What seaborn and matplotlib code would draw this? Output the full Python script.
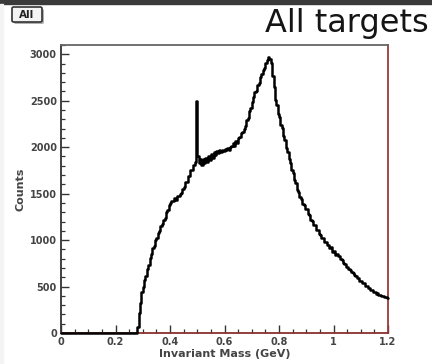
import numpy as np
import pandas as pd
import matplotlib
matplotlib.use("Agg")
import matplotlib.pyplot as plt
from matplotlib.ticker import MultipleLocator, FuncFormatter
import matplotlib.patches as mpatches
import seaborn as sns

# Invariant-mass histogram, 0.005 GeV bins from 0 to 1.2 GeV
bin_width = 0.005
x_min, x_max = 0.0, 1.2
counts_below_threshold = [0] * 56  # 0.000 - 0.280 GeV: no entries
counts_above_threshold = [
    60, 210, 320, 440, 490, 570, 610, 690, 730, 810,            # 0.280 - 0.325
    850, 920, 940, 1000, 1020, 1080, 1100, 1150, 1170, 1220,    # 0.330 - 0.375
    1240, 1300, 1320, 1380, 1395, 1420, 1425, 1455, 1435, 1475,  # 0.380 - 0.425
    1470, 1500, 1505, 1555, 1570, 1620, 1630, 1690, 1690, 1750,  # 0.430 - 0.475
    1755, 1810, 1845, 2500, 1910, 1830, 1870, 1810, 1875, 1825,  # 0.480 - 0.525
    1885, 1845, 1905, 1865, 1925, 1885, 1945, 1915, 1955, 1935,  # 0.530 - 0.575
    1965, 1945, 1975, 1955, 1985, 1965, 1995, 1975, 2005, 2015,  # 0.580 - 0.625
    2040, 2015, 2065, 2045, 2095, 2105, 2150, 2165, 2195, 2225,  # 0.630 - 0.675
    2290, 2315, 2390, 2425, 2490, 2535, 2590, 2605, 2670, 2695,  # 0.680 - 0.725
    2760, 2785, 2830, 2855, 2910, 2935, 2975, 2945, 2905, 2770,  # 0.730 - 0.775
    2650, 2510, 2450, 2360, 2320, 2240, 2210, 2120, 2080, 1990,  # 0.780 - 0.825
    1950, 1870, 1830, 1750, 1720, 1650, 1610, 1540, 1520, 1460,  # 0.830 - 0.875
    1440, 1390, 1380, 1330, 1330, 1280, 1270, 1220, 1210, 1160,  # 0.880 - 0.925
    1160, 1110, 1110, 1070, 1060, 1020, 1020, 980, 980, 950,     # 0.930 - 0.975
    950, 910, 925, 875, 880, 840, 848, 825, 828, 795,            # 0.980 - 1.025
    785, 755, 748, 715, 706, 685, 680, 655, 648, 625,            # 1.030 - 1.075
    618, 595, 588, 560, 560, 535, 535, 510, 505, 485,            # 1.080 - 1.125
    480, 460, 462, 440, 440, 425, 428, 408, 410, 396,            # 1.130 - 1.175
    398, 386, 392, 382,                                          # 1.180 - 1.195
]
counts = counts_below_threshold + counts_above_threshold

title_text = "All targets"
button_text = "All"
x_label = "Invariant Mass (GeV)"
y_label = "Counts"

# Step outline: each bin's count held from its low edge to its high edge
edges = np.round(np.arange(len(counts) + 1) * bin_width + x_min, 4)
step_df = pd.DataFrame({"mass": edges, "count": counts + counts[-1:]})

sns.set_style("white")
plt.rcParams["font.family"] = ["DejaVu Sans"]

W, H = 432, 364
fig = plt.figure(figsize=(W / 100, H / 100), dpi=100)
fig.patch.set_facecolor("white")
ax = fig.add_axes([61 / W, 31 / H, 327 / W, 288 / H])

sns.lineplot(data=step_df, x="mass", y="count", drawstyle="steps-post",
             color="black", linewidth=1.8, ax=ax, estimator=None, sort=False,
             zorder=3)
for ln in ax.lines:
    ln.set_clip_on(False)

ax.set_xlim(x_min, x_max)
ax.set_ylim(0, 3100)

ax.xaxis.set_major_locator(MultipleLocator(0.2))
ax.xaxis.set_minor_locator(MultipleLocator(0.05))
ax.yaxis.set_major_locator(MultipleLocator(500))
ax.yaxis.set_minor_locator(MultipleLocator(100))
ax.xaxis.set_major_formatter(FuncFormatter(
    lambda v, p: "0" if abs(v) < 1e-9 else ("1" if abs(v - 1) < 1e-9 else f"{v:g}")))

ax.tick_params(axis="both", which="major", direction="in", length=6, width=1.0,
               labelsize=7, pad=3, colors="#333333")
ax.tick_params(axis="both", which="minor", direction="in", length=3, width=0.9,
               colors="#333333")
ax.tick_params(axis="y", which="both", left=True, right=False)
ax.tick_params(axis="x", which="both", bottom=True, top=False)
for lab in ax.get_xticklabels() + ax.get_yticklabels():
    lab.set_fontweight("bold")
    lab.set_color("#444444")

ax.set_xlabel(x_label, fontsize=8, fontweight="bold", color="#444444", labelpad=1)
ax.set_ylabel(y_label, fontsize=8, fontweight="bold", color="#444444", labelpad=3)

ax.spines["left"].set_color("#333333")
ax.spines["top"].set_color("#666666")
ax.spines["right"].set_color("#9a3a3a")
ax.spines["bottom"].set_color("#8a3030")
for s in ax.spines.values():
    s.set_linewidth(1.3)

# Title
fig.text(429 / W, 1 - 32 / H, title_text, ha="right", va="baseline", fontsize=23,
         fontfamily="DejaVu Sans", fontweight="normal", color="#151515")

# Canvas button with a drop shadow
bx, by, bw, bh = 12, 7, 30, 15
fig.patches.append(mpatches.FancyBboxPatch(
    ((bx + 2) / W, 1 - (by + bh + 2) / H), bw / W, bh / H,
    boxstyle="round,pad=0,rounding_size=0.004", transform=fig.transFigure,
    fc="#b0b0b0", ec="none", zorder=1))
fig.patches.append(mpatches.FancyBboxPatch(
    (bx / W, 1 - (by + bh) / H), bw / W, bh / H,
    boxstyle="round,pad=0,rounding_size=0.004", transform=fig.transFigure,
    fc="#f4f4f4", ec="#333333", lw=1.2, zorder=2))
fig.text((bx + bw / 2) / W, 1 - (by + bh / 2) / H, button_text, ha="center",
         va="center", fontsize=7.5, fontweight="bold", color="#222222", zorder=3)

# Dark strip along the top edge and a pale strip down the left edge
fig.patches.append(mpatches.Rectangle((0, 1 - 4 / H), 1, 4 / H,
                                      transform=fig.transFigure, color="#3a3a3a",
                                      zorder=-1))
fig.patches.append(mpatches.Rectangle((0, 0), 3 / W, 1 - 4 / H,
                                      transform=fig.transFigure, color="#f4f4f4",
                                      zorder=-1))

fig.savefig("out.png", dpi=100, facecolor="white")
